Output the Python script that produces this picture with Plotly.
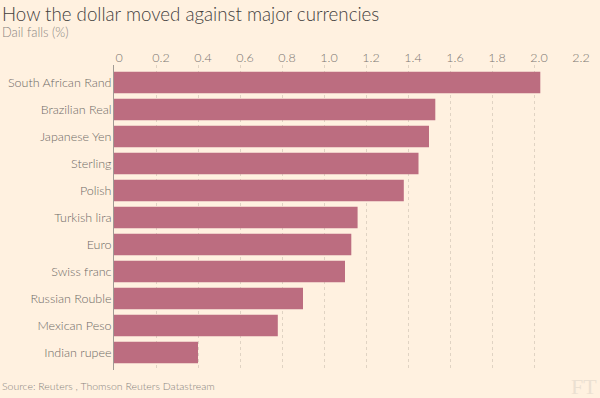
import plotly.graph_objects as go

categories = ["South African Rand", "Brazilian Real", "Japanese Yen", "Sterling", "Polish",
              "Turkish lira", "Euro", "Swiss franc", "Russian Rouble", "Mexican Peso", "Indian rupee"]
values = [2.03, 1.53, 1.50, 1.45, 1.38, 1.16, 1.13, 1.10, 0.90, 0.78, 0.40]
tick_vals = [0, 0.2, 0.4, 0.6, 0.8, 1.0, 1.2, 1.4, 1.6, 1.8, 2.0, 2.2]
tick_text = ["0", "0.2", "0.4", "0.6", "0.8", "1.0", "1.2", "1.4", "1.6", "1.8", "2.0", "2.2"]

BG = "#fff1e0"
BAR = "#bc6d80"
TXT = "#6e6a66"
FONT = "Lato"

W, H = 600, 398
ML, MR, MT, MB = 114, 24, 65, 28
pw = W - ML - MR
ph = H - MT - MB

def px(x):
    return (x - ML) / pw

def py(y):
    return (H - MB - y) / ph

fig = go.Figure(go.Bar(
    x=values, y=categories, orientation="h",
    marker=dict(color=BAR, line=dict(width=0)),
    width=0.8, hoverinfo="skip",
))

fig.update_layout(
    width=W, height=H,
    margin=dict(l=ML, r=MR, t=MT, b=MB, pad=0, autoexpand=False),
    paper_bgcolor=BG, plot_bgcolor=BG,
    showlegend=False,
    font=dict(family=FONT, color=TXT, size=12),
    xaxis=dict(
        range=[0, 2.2], side="top", tickvals=tick_vals, ticktext=tick_text,
        showgrid=True, gridcolor="#e0d3c3", griddash="dot", gridwidth=1,
        zeroline=False, showline=False, ticks="", automargin=False,
        tickfont=dict(family=FONT, size=12.5, color="#7a7571", weight=300),
        ticklabelshift=5, ticklabelstandoff=0,
    ),
    yaxis=dict(
        type="category", categoryorder="array", categoryarray=categories,
        range=[10.65, -0.65], showgrid=False, zeroline=False, automargin=False,
        showline=True, linecolor="#a09a94", linewidth=1, ticks="",
        tickfont=dict(family=FONT, size=12.5, color=TXT, weight=300),
        ticklabelstandoff=-1,
    ),
    annotations=[
        dict(text="How the dollar moved against major currencies", xref="paper", yref="paper",
             x=px(0), y=py(14), xanchor="left", yanchor="middle", showarrow=False,
             font=dict(family=FONT, size=18.7, color="#43403d", weight=300)),
        dict(text="Dail falls (%)", xref="paper", yref="paper",
             x=px(0), y=py(32), xanchor="left", yanchor="middle", showarrow=False,
             font=dict(family=FONT, size=12.8, color="#8a8580", weight=300)),
        dict(text="Source: Reuters , Thomson Reuters Datastream", xref="paper", yref="paper",
             x=px(0), y=py(386), xanchor="left", yanchor="middle", showarrow=False,
             font=dict(family=FONT, size=10.5, color="#8a8580", weight=300)),
        dict(text="FT", xref="paper", yref="paper",
             x=px(599), y=py(386), xanchor="right", yanchor="middle", showarrow=False,
             font=dict(family="Liberation Serif", size=22, color="#ebe0d2")),
    ],
)

fig.write_html("out.html", config={"displayModeBar": False},
               post_script="document.body.style.margin='0';")
